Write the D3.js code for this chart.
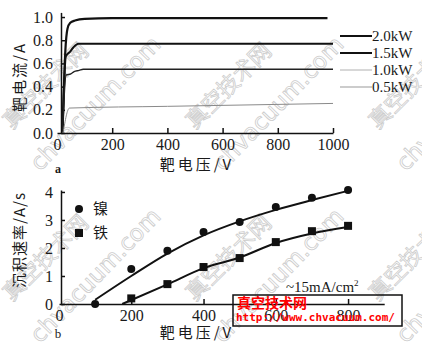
<!DOCTYPE html>
<html>
<head>
<meta charset="utf-8">
<script src="https://cdn.jsdelivr.net/npm/d3@7"></script>
<style>
  body { margin: 0; background: #fff; }
  .num { font-family: "Liberation Serif", "DejaVu Serif", serif; font-size: 16px; fill: #1a1a1a; }
  .cjk { font-family: "Noto Sans CJK SC", sans-serif; font-size: 15px; fill: #1a1a1a; }
  .axis path, .axis line { stroke: #111; stroke-width: 1.5; }
  .axis text { font-family: "Liberation Serif", "DejaVu Serif", serif; font-size: 16px; fill: #1a1a1a; }
</style>
</head>
<body>
<svg id="chart" width="422" height="347"></svg>
<script>
// --- panel a: target current vs target voltage ---
var powers = ["2.0kW", "1.5kW", "1.0kW", "0.5kW"];
var current20 = [[20,0],[30,0.7],[38,0.9],[48,0.95],[65,0.97],[100,0.985],[200,0.99],[980,0.99]];
var current15 = [[20,0],[32,0.66],[47,0.70],[60,0.74],[78,0.77],[1000,0.77]];
var current10 = [[20,0],[33,0.50],[50,0.51],[62,0.53],[80,0.54],[95,0.55],[1000,0.55]];
var current05 = [[22,0],[45,0.215],[400,0.23],[1000,0.255]];
var topXTicks = [0, 200, 400, 600, 800, 1000];
var topYTicks = [0, 0.2, 0.4, 0.6, 0.8, 1.0];

// --- panel b: deposition rate vs target voltage ---
var voltB = [100, 200, 300, 400, 500, 600, 700, 800];
var nickelRate = [0, 1.25, 1.9, 2.57, 2.93, 3.46, 3.79, 4.07];
var ironVolt = [200, 300, 400, 500, 600, 700, 800];
var ironRate = [0.2, 0.71, 1.32, 1.64, 2.21, 2.6, 2.79];
var nickelFit = [[100,0.15],[200,1.0],[300,1.8],[400,2.45],[500,2.95],[600,3.36],[700,3.71],[800,4.04]];
var ironFit = [[175,0],[300,0.7],[400,1.28],[500,1.66],[600,2.18],[700,2.52],[800,2.75]];
var botXTicks = [0, 200, 400, 600, 800];
var botYTicks = [0, 1, 2, 3, 4];

var svg = d3.select("#chart");

// faint diagonal watermarks
var wm = svg.append("g");
[0, 1, 2].forEach(function(i){
  [0, 1].forEach(function(j){
    var ox = 12 + i * 183, oy = 130 + j * 172;
    wm.append("text").attr("transform", "translate(" + ox + "," + oy + ") rotate(-45)")
      .attr("font-family", "Noto Sans CJK SC").attr("font-size", 22)
      .attr("fill", "none").attr("stroke", "#cccccc").attr("stroke-width", 0.8).text("真空技术网");
    wm.append("text").attr("transform", "translate(" + (ox + 28) + "," + (oy + 42) + ") rotate(-46)")
      .attr("font-family", "DejaVu Sans").attr("font-size", 23)
      .attr("fill", "none").attr("stroke", "#cccccc").attr("stroke-width", 0.8).text("chvacuum.com");
  });
});

// ---------- panel a ----------
var xa = d3.scaleLinear().domain([0, 1000]).range([57, 333]);
var ya = d3.scaleLinear().domain([0, 1.04]).range([133, 12.4]);

svg.append("g").attr("class", "axis")
    .attr("transform", "translate(0," + ya(0) + ")")
    .call(d3.axisBottom(xa).tickValues(topXTicks).tickFormat(d3.format("d")).tickSizeInner(-5).tickSizeOuter(0).tickPadding(6))
    .call(g => g.selectAll(".tick").filter(d => d === 0).select("line").remove());

svg.append("g").attr("class", "axis")
    .attr("transform", "translate(61,0)")
    .call(d3.axisLeft(ya).tickValues(topYTicks).tickFormat(d3.format(".1f")).tickSizeInner(-4).tickSizeOuter(0).tickPadding(8));

var lineA = d3.line().x(d => xa(d[0])).y(d => ya(d[1])).curve(d3.curveMonotoneX);
var seriesA = [current20, current15, current10, current05];
var stylesA = [{c: "#111", w: 2.2}, {c: "#111", w: 2}, {c: "#222", w: 1.4}, {c: "#8a8a8a", w: 1}];
var legendStylesA = [{c: "#111", w: 2}, {c: "#111", w: 2}, {c: "#b0b0b0", w: 1}, {c: "#999", w: 1}];

svg.append("g").selectAll("path").data(seriesA).join("path")
    .attr("d", lineA).attr("fill", "none")
    .attr("stroke", (d, i) => stylesA[i].c)
    .attr("stroke-width", (d, i) => stylesA[i].w);

var legA = svg.append("g").selectAll("g").data(powers).join("g")
    .attr("transform", (d, i) => "translate(340," + (36 + i * 17) + ")");
legA.append("line").attr("x1", 0).attr("x2", 32)
    .attr("stroke", (d, i) => legendStylesA[i].c).attr("stroke-width", (d, i) => legendStylesA[i].w);
legA.append("text").attr("class", "num").attr("x", 32).attr("y", 5).style("font-size", "15px").text(d => d);

svg.append("text").attr("class", "cjk")
    .attr("transform", "translate(25,77) rotate(-90)")
    .attr("text-anchor", "middle").style("letter-spacing", "2px").text("靶电流/A");
svg.append("text").attr("class", "cjk").attr("x", 197).attr("y", 170)
    .attr("text-anchor", "middle").style("letter-spacing", "3px").text("靶电压/V");
svg.append("text").attr("class", "num").attr("x", 58).attr("y", 173)
    .attr("text-anchor", "middle").style("font-size", "12px").style("font-weight", "bold").text("a");

// ---------- panel b ----------
var xb = d3.scaleLinear().domain([0, 900]).range([59, 384.2]);
var yb = d3.scaleLinear().domain([0, 4.07]).range([304, 190]);

svg.append("g").attr("class", "axis")
    .attr("transform", "translate(0," + yb(0) + ")")
    .call(d3.axisBottom(xb).tickValues(botXTicks).tickFormat(d3.format("d")).tickSizeInner(-5).tickSizeOuter(0).tickPadding(6))
    .call(g => g.selectAll(".tick").filter(d => d === 0).select("line").remove());

svg.append("g").attr("class", "axis")
    .attr("transform", "translate(61,0)")
    .call(d3.axisLeft(yb).tickValues(botYTicks).tickFormat(d3.format("d")).tickSizeInner(-4).tickSizeOuter(0).tickPadding(8));

var lineB = d3.line().x(d => xb(d[0])).y(d => yb(d[1])).curve(d3.curveMonotoneX);
svg.append("path").datum(nickelFit).attr("d", lineB).attr("fill", "none").attr("stroke", "#111").attr("stroke-width", 2);
svg.append("path").datum(ironFit).attr("d", lineB).attr("fill", "none").attr("stroke", "#111").attr("stroke-width", 2);

svg.append("g").selectAll("circle").data(voltB).join("circle")
    .attr("cx", d => xb(d)).attr("cy", (d, i) => yb(nickelRate[i])).attr("r", 4).attr("fill", "#111");
svg.append("g").selectAll("rect").data(ironVolt).join("rect")
    .attr("x", d => xb(d) - 4).attr("y", (d, i) => yb(ironRate[i]) - 4)
    .attr("width", 8).attr("height", 8).attr("fill", "#111");

// legend b
svg.append("circle").attr("cx", 79).attr("cy", 209).attr("r", 4).attr("fill", "#111");
svg.append("text").attr("class", "cjk").attr("x", 93).attr("y", 214).text("镍");
svg.append("rect").attr("x", 75).attr("y", 229).attr("width", 8).attr("height", 8).attr("fill", "#111");
svg.append("text").attr("class", "cjk").attr("x", 93).attr("y", 238).text("铁");

var ann = svg.append("text").attr("class", "num").attr("x", 286).attr("y", 292).style("font-size", "15px");
ann.append("tspan").text("~15mA/cm");
ann.append("tspan").attr("dy", -6).style("font-size", "9px").text("2");

svg.append("text").attr("class", "cjk")
    .attr("transform", "translate(25,240) rotate(-90)")
    .attr("text-anchor", "middle").style("letter-spacing", "1px").text("沉积速率/A/s");
svg.append("text").attr("class", "cjk").attr("x", 197).attr("y", 338)
    .attr("text-anchor", "middle").style("letter-spacing", "3px").text("靶电压/V");
svg.append("text").attr("class", "num").attr("x", 58).attr("y", 338)
    .attr("text-anchor", "middle").style("font-size", "13px").text("b");

// red site stamp
svg.append("rect").attr("x", 233).attr("y", 295).attr("width", 169).attr("height", 31)
    .attr("fill", "none").attr("stroke", "#111").attr("stroke-width", 1.5);
svg.append("text").attr("x", 237).attr("y", 308)
    .attr("font-family", "Noto Sans CJK SC").attr("font-size", 14).attr("font-weight", "bold")
    .attr("fill", "#f00").text("真空技术网");
svg.append("text").attr("x", 236).attr("y", 321)
    .attr("font-family", "DejaVu Sans Mono").attr("font-size", 11).attr("font-weight", "bold")
    .attr("fill", "#f00").text("http://www.chvacuum.com/");
</script>
</body>
</html>
